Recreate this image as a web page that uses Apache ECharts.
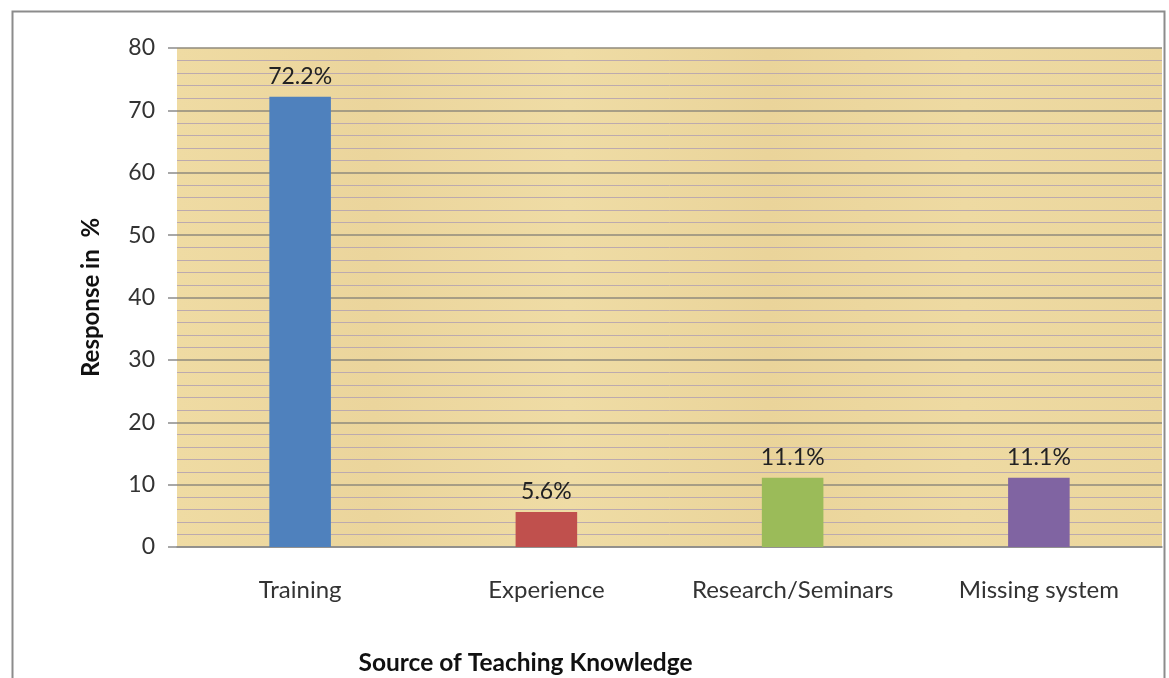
<!DOCTYPE html>
<html>
<head>
<meta charset="utf-8">
<script src="https://cdn.jsdelivr.net/npm/echarts@6/dist/echarts.min.js"></script>
<style>html,body{margin:0;padding:0;background:#fff;overflow:hidden}#c{width:1169px;height:678px}</style>
</head>
<body>
<div id="c"></div>
<script>
const categories = ['Training', 'Experience', 'Research/Seminars', 'Missing system'];
const values = [72.2, 5.6, 11.1, 11.1];
const barColors = ['#4F81BD', '#C0504D', '#9BBB59', '#8064A2'];
const yTitle = 'Response in  %';
const xTitle = 'Source of Teaching Knowledge';

const font = 'Lato, "Open Sans", sans-serif';
const chart = echarts.init(document.getElementById('c'), null, {renderer: 'canvas', width: 1169, height: 678});
chart.setOption({
  animation: false,
  backgroundColor: '#fff',
  graphic: [{
    type: 'rect', left: 10, top: 9, z: 100, silent: true,
    shape: {width: 1152, height: 700},
    style: {fill: 'none', stroke: '#8c8c8c', lineWidth: 2}
  }],
  grid: {left: 177, width: 985, top: 48, height: 499, show: true,
    containLabel: false, outerBoundsMode: 'none',
    backgroundColor: new echarts.graphic.LinearGradient(0, 0, 1, 0, [
      {offset: 0, color: '#EFDBA3'}, {offset: 0.2, color: '#EBD59C'},
      {offset: 0.4, color: '#EFDCA5'}, {offset: 0.6, color: '#EAD49A'},
      {offset: 0.8, color: '#EEDAA2'}, {offset: 1, color: '#EBD69D'}
    ]),
    borderWidth: 0},
  xAxis: {
    type: 'category', data: categories,
    axisLine: {show: true, lineStyle: {color: '#8c8c8c', width: 1.5}},
    axisTick: {show: false},
    axisLabel: {fontFamily: font, fontSize: 24, color: '#333', margin: 31, interval: 0},
    name: xTitle, nameLocation: 'middle', nameGap: 104,
    nameTextStyle: {fontFamily: font, fontSize: 24.5, fontWeight: 'bold', color: '#111',
      padding: [0, 288, 0, 0]}
  },
  yAxis: {
    type: 'value', min: 0, max: 80, interval: 10,
    axisLine: {show: false},
    axisTick: {show: true, length: 9, lineStyle: {color: '#8c8c8c', width: 1.5}},
    axisLabel: {fontFamily: font, fontSize: 23, color: '#333', margin: 22},
    splitLine: {show: true, lineStyle: {color: '#8f8a7c', width: 1.5}},
    minorTick: {show: false, splitNumber: 5},
    minorSplitLine: {show: true, lineStyle: {color: '#bcaaae', width: 1}},
    name: yTitle, nameLocation: 'middle', nameGap: 74,
    nameTextStyle: {fontFamily: font, fontSize: 24, fontWeight: 'bold', color: '#111'}
  },
  series: [{
    type: 'bar', barWidth: '25%',
    data: values.map((v, i) => ({value: v, itemStyle: {color: barColors[i]}})),
    label: {show: true, position: 'top', distance: 9, formatter: '{c}%',
      fontFamily: font, fontSize: 23, color: '#222'}
  }]
});
</script>
</body>
</html>
